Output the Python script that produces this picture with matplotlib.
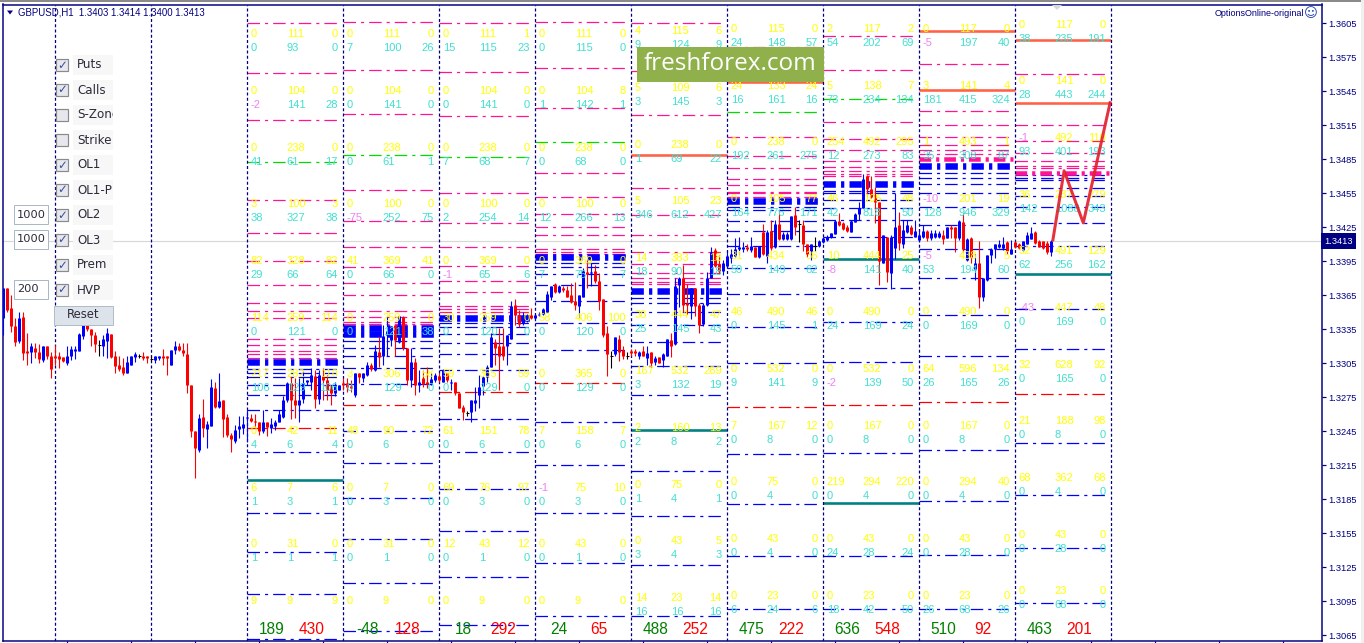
import numpy as np
import matplotlib
matplotlib.use('Agg')
import matplotlib.pyplot as plt
from matplotlib.patches import Rectangle, Polygon

# GBPUSD H1 candles, in pips (1.3413 -> 13413)
opens = [13345,13372,13354,13338,13325,13346,13316,13315,13319,13315,13308,13320,13312,13312,13312,13311,13305,13312,13316,13316,13329,13340,13335,13330,13321,13320,13325,13331,13312,13304,13302,13297,13304,13311,13312,13312,13312,13309,13308,13310,13312,13312,13304,13317,13320,13317,13313,13286,13245,13229,13258,13247,13250,13283,13267,13273,13258,13242,13237,13247,13248,13257,13257,13254,13253,13245,13253,13248,13250,13253,13258,13273,13288,13273,13268,13274,13289,13289,13294,13274,13294,13290,13284,13279,13282,13288,13288,13285,13277,13297,13292,13295,13304,13299,13315,13312,13330,13326,13339,13324,13346,13319,13290,13306,13286,13292,13289,13288,13290,13294,13289,13297,13288,13289,13279,13267,13261,13262,13270,13277,13285,13293,13302,13324,13320,13320,13320,13327,13357,13348,13341,13343,13348,13345,13348,13349,13350,13364,13375,13368,13372,13370,13365,13360,13356,13364,13386,13385,13387,13378,13362,13332,13312,13313,13327,13317,13312,13316,13316,13312,13316,13310,13315,13306,13311,13308,13312,13326,13322,13374,13380,13358,13356,13372,13357,13340,13357,13380,13405,13393,13387,13391,13398,13400,13406,13406,13408,13405,13408,13399,13421,13400,13422,13408,13428,13415,13415,13415,13436,13428,13427,13410,13404,13409,13409,13412,13414,13417,13419,13431,13429,13425,13421,13430,13437,13442,13470,13459,13454,13447,13394,13417,13385,13407,13427,13410,13421,13425,13417,13414,13417,13422,13416,13417,13417,13418,13416,13425,13425,13416,13430,13396,13416,13388,13394,13364,13379,13401,13406,13408,13407,13412,13402,13412,13410,13405,13410,13415,13421,13413,13413,13411,13403]
highs = [13372,13372,13365,13345,13350,13350,13332,13323,13323,13322,13320,13320,13315,13321,13315,13311,13320,13320,13320,13332,13340,13342,13335,13333,13326,13330,13336,13331,13316,13312,13310,13312,13312,13315,13313,13315,13312,13312,13312,13312,13318,13312,13317,13325,13323,13323,13323,13286,13245,13260,13274,13254,13291,13289,13297,13273,13260,13244,13251,13259,13259,13264,13260,13260,13253,13264,13253,13257,13255,13264,13276,13289,13294,13292,13292,13299,13290,13301,13299,13299,13301,13295,13286,13289,13286,13292,13292,13290,13297,13297,13297,13306,13305,13321,13328,13339,13347,13338,13339,13347,13347,13319,13319,13310,13299,13299,13302,13297,13297,13297,13300,13297,13291,13289,13279,13268,13263,13273,13284,13295,13294,13304,13332,13327,13336,13336,13330,13360,13362,13352,13350,13349,13354,13348,13350,13354,13369,13373,13376,13374,13373,13373,13376,13377,13365,13389,13396,13394,13392,13385,13362,13338,13316,13328,13330,13320,13315,13318,13318,13316,13320,13320,13315,13312,13311,13314,13327,13332,13380,13381,13392,13375,13372,13372,13358,13358,13386,13408,13407,13401,13396,13403,13406,13416,13417,13412,13410,13417,13408,13409,13428,13423,13432,13432,13440,13421,13421,13435,13443,13432,13432,13410,13410,13417,13414,13417,13418,13420,13432,13438,13430,13427,13432,13438,13447,13472,13471,13470,13461,13447,13418,13417,13418,13455,13439,13432,13432,13427,13432,13423,13427,13423,13423,13423,13422,13423,13425,13427,13425,13432,13438,13416,13417,13402,13413,13380,13401,13407,13410,13414,13417,13413,13414,13413,13411,13413,13421,13425,13422,13414,13413,13413,13414]
lows = [13330,13350,13333,13320,13323,13308,13304,13305,13310,13305,13306,13309,13292,13304,13301,13306,13304,13308,13309,13316,13327,13334,13320,13315,13312,13312,13310,13310,13297,13298,13295,13297,13304,13306,13310,13308,13305,13307,13305,13308,13304,13295,13304,13313,13316,13312,13279,13240,13204,13227,13240,13230,13250,13266,13266,13240,13240,13227,13235,13239,13243,13236,13253,13249,13242,13244,13241,13244,13246,13253,13257,13271,13256,13257,13253,13270,13286,13282,13266,13269,13273,13273,13268,13276,13282,13282,13280,13280,13275,13288,13289,13294,13298,13298,13302,13304,13312,13320,13312,13323,13317,13286,13284,13277,13280,13284,13283,13286,13289,13289,13289,13289,13282,13277,13266,13255,13259,13253,13263,13266,13277,13289,13302,13304,13282,13308,13304,13327,13339,13337,13339,13342,13344,13344,13347,13348,13350,13361,13367,13367,13368,13364,13358,13352,13345,13364,13372,13373,13376,13352,13328,13294,13301,13312,13307,13309,13309,13312,13312,13309,13312,13304,13302,13304,13305,13302,13312,13311,13321,13355,13350,13349,13344,13347,13332,13338,13356,13380,13390,13384,13383,13390,13394,13399,13401,13403,13404,13403,13399,13398,13401,13394,13405,13407,13414,13414,13414,13414,13418,13412,13404,13399,13396,13404,13408,13411,13413,13416,13419,13426,13423,13421,13421,13430,13432,13442,13452,13451,13429,13374,13394,13377,13371,13397,13405,13407,13420,13418,13417,13413,13416,13413,13414,13416,13416,13410,13416,13416,13403,13414,13403,13395,13394,13379,13354,13360,13378,13394,13398,13407,13405,13402,13402,13407,13406,13404,13410,13415,13410,13408,13406,13402,13400]
closes = [13372,13352,13338,13324,13345,13314,13314,13320,13315,13309,13320,13312,13300,13310,13309,13307,13312,13318,13318,13331,13339,13335,13330,13322,13321,13327,13332,13311,13303,13300,13297,13306,13312,13313,13312,13310,13310,13309,13312,13312,13310,13310,13317,13320,13317,13314,13286,13245,13230,13257,13248,13252,13284,13267,13272,13256,13242,13238,13246,13250,13252,13258,13254,13253,13245,13253,13249,13252,13253,13260,13273,13288,13273,13268,13273,13288,13290,13295,13274,13295,13290,13282,13279,13285,13286,13286,13284,13283,13297,13293,13297,13304,13300,13316,13311,13329,13334,13338,13326,13347,13319,13290,13306,13286,13289,13287,13287,13291,13295,13290,13299,13290,13289,13279,13266,13262,13261,13273,13273,13284,13293,13302,13328,13319,13312,13312,13330,13356,13348,13340,13346,13347,13345,13348,13349,13353,13366,13373,13368,13373,13370,13364,13359,13357,13365,13387,13384,13386,13378,13360,13330,13313,13312,13328,13315,13312,13312,13314,13314,13315,13312,13314,13305,13310,13305,13313,13327,13320,13373,13380,13357,13357,13372,13356,13339,13357,13380,13403,13391,13387,13394,13400,13402,13406,13408,13408,13406,13409,13399,13409,13402,13421,13407,13428,13415,13419,13419,13435,13425,13428,13410,13402,13410,13409,13413,13416,13417,13420,13431,13427,13424,13422,13431,13437,13442,13468,13459,13452,13447,13395,13418,13386,13417,13425,13411,13423,13427,13419,13422,13418,13422,13416,13420,13420,13420,13415,13425,13424,13416,13431,13406,13415,13399,13394,13364,13380,13401,13406,13410,13410,13410,13404,13406,13408,13407,13413,13418,13420,13411,13408,13407,13403,13413]

# daily separators and option columns, in bar numbers
day_lines = [13, 37, 61, 85, 109, 133, 157, 181, 205, 229, 253, 277]
columns = [61, 85, 109, 133, 157, 181, 205, 229, 253]
basis = [-4.5, -4.5, -4.5, -4.5, -2, 0, 0, 0, 4]
strikes = [13600, 13550, 13500, 13450, 13400, 13350, 13300, 13250, 13200, 13150, 13100]

yellow_rows = [
    ['0 111 0','0 104 0','0 238 0','3 100 3','82 328 82','114 259 114','217 282 118','0 42 11','6 7 6','0 31 0','9 9 9'],
    ['0 111 0','0 104 0','0 238 0','0 100 0','41 369 41','0 259 0','3 306 58','48 90 72','0 7 0','0 31 0','0 9 0'],
    ['0 111 1','0 104 0','0 238 0','0 100 0','0 369 0','30 259 0','59 365 59','61 151 78','69 76 97','12 43 12','0 9 0'],
    ['0 111 0','0 104 8','0 238 0','0 100 0','0 369 0','58 406 100','0 365 0','7 158 7','-1 75 10','0 43 0','0 9 0'],
    ['4 115 6','5 109 6','0 238 0','5 105 23','14 383 18','38 444 47','167 532 289','2 160 13','0 75 0','0 43 5','14 23 14'],
    ['0 115 0','24 133 24','0 238 0','0 105 77','31 434 36','46 490 46','0 532 0','7 167 12','0 75 0','0 43 0','0 23 0'],
    ['2 117 2','5 138 7','254 492 295','46 105 48','10 444 25','0 490 0','0 532 0','0 167 0','219 294 220','0 43 0','0 23 0'],
    ['0 117 0','3 141 4','1 493 1','-10 201 19','-5 438 5','0 490 0','64 596 134','0 167 0','0 294 40','0 43 0','0 23 0'],
    ['0 117 0','0 141 0','-1 492 110','36 287 279','52 491 129','-43 447 48','32 628 92','21 188 98','68 362 68','0 43 0','0 23 0'],
]
cyan_rows = [
    ['0 93 0','-2 141 28','41 61 17','38 327 38','29 66 64','0 121 0','106 129 106','4 6 4','1 3 1','1 1 1',''],
    ['7 100 26','0 141 0','0 61 1','-75 252 75','0 66 0','0 121 38','0 129 0','0 6 0','0 3 0','0 1 0',''],
    ['15 115 23','0 141 0','7 68 7','2 254 14','-1 65 6','0 120 0','0 129 0','0 6 0','0 3 0','0 1 0',''],
    ['0 115 0','1 142 1','0 68 0','12 266 13','7 75 7','0 120 0','0 129 0','0 6 0','0 3 0','0 1 0',''],
    ['9 124 9','3 145 3','1 69 22','346 612 427','18 90 18','25 145 43','3 132 19','2 8 2','1 4 1','3 4 3','16 16 16'],
    ['24 148 57','16 161 16','192 261 275','164 776 171','59 149 62','0 145 1','9 141 9','0 8 0','0 4 0','0 4 0','6 24 6'],
    ['54 202 69','73 234 134','12 273 83','42 818 50','-8 141 40','24 169 24','-2 139 50','0 8 0','0 4 0','24 28 24','18 42 50'],
    ['-5 197 40','181 415 324','35 308 87','128 946 329','53 194 60','0 169 0','26 165 26','0 8 0','0 4 0','0 28 0','26 68 26'],
    ['38 235 191','28 443 244','93 401 193','142 1088 343','62 256 162','0 169 0','0 165 0','0 8 0','0 4 0','0 28 0','0 68 0'],
]

puts_total = [189, -48, 18, 24, 488, 475, 636, 510, 463]
calls_total = [430, 128, 292, 65, 252, 222, 548, 92, 201]

# option levels per column, in pips
mag_levels = [
    [13605,13561,13520,13449,13420,13395,13374,13358,13351,13345,13327,13321,13316,13313,13310],
    [13606,13564,13525,13458,13431,13408,13390,13376,13365,13351,13346,13342,13340],
    [13605,13562,13523,13455,13429,13408,13391,13378,13368,13356,13353,13350],
    [13606,13566,13530,13473,13452,13437,13425,13418,13406,13403,13402],
    [13605,13563,13524,13460,13436,13418,13403,13393,13385,13380,13377,13375],
    [13584,13505,13488,13477,13468,13462,13456,13455,13452],
    [13594,13564,13518,13503,13493,13484,13478,13475,13472,13470],
    [13569,13528,13515,13505,13498,13493,13490],
    [13560,13515,13501,13491,13484,13479,13477],
]
blue_levels = [
    [13300,13297,13293,13286,13277,13264,13227,13173,13139,13102,13062],
    [13325,13319,13312,13301,13287,13245,13217,13186,13150,13111,13069],
    [13341,13337,13331,13323,13313,13299,13256,13227,13194,13157,13117,13074],
    [13394,13390,13384,13374,13360,13341,13317,13253,13215,13173,13129,13082],
    [13363,13358,13350,13339,13324,13303,13277,13210,13170,13127,13082],
    [13443,13440,13431,13422,13409,13389,13366,13337,13305,13225,13181,13135,13088],
    [13457,13455,13449,13442,13432,13417,13372,13342,13306,13226,13135,13088],
    [13473,13469,13463,13455,13443,13427,13406,13380,13348,13312,13229,13184,13136,13088],
    [13471,13469,13467,13460,13453,13443,13429,13409,13353,13318,13235,13189,13142,13094],
]
green_levels = [[13483],[13489],[13487],[13500],[],[13527],[13538],[],[]]
red_levels = [[13248],[13268],[13280],[13288],[],[13267],[13268],[13271],[13278]]
orange_levels = [[],[],[],[],[13489],[13553],[],[13598,13546],[13590,13535]]
teal_levels = [[13202],[],[],[],[13246],[],[13397,13182],[],[13384]]
blue_bands = [[13306],[13336,13331],[13345],[13399],[13369],[13448],[13463],[13479],[]]
mag_bands = [[],[],[],[],[],[],[],[13485],[13473]]

forecast_bar = [262.4, 265.2, 270, 276.7]
forecast_price = [13414, 13475, 13429, 13535]
last_price = 13413

BLUE = '#0000ff'
RED = '#ff0000'
NAVY = '#000080'
YELLOW = '#ffff00'
CYAN = '#40e0d0'
PINK = '#ee82ee'
DASH = (0, (10, 4, 2.5, 4))
FONT = 'Liberation Sans'
PX = 0.72  # one pixel in points at dpi 100

fig = plt.figure(figsize=(13.64, 6.43), dpi=100, facecolor='white')
ax = fig.add_axes([2.5 / 1364, 2 / 643, (1322 - 2.5) / 1364, (641 - 4.5) / 643])
ax.set_xlim(-0.2, 329.675)
ax.set_ylim(1.30601, 1.36217)

# current price line
ax.axhline(last_price / 1e4, color='#d8d8d8', lw=1.2 * PX, zorder=0.5)

# horizontal levels
def draw_levels(levels, color, lw=1.25 * PX, length=23.3, ls=DASH, z=1):
    for col, prices in zip(columns, levels):
        for p in prices:
            ax.plot([col, col + length], [p / 1e4, p / 1e4], color=color, lw=lw, ls=ls,
                    zorder=z, dash_capstyle='butt', solid_capstyle='butt')

draw_levels(mag_levels, '#ff1493')
draw_levels(blue_levels, BLUE)
draw_levels(green_levels, '#00dd00')
draw_levels(red_levels, RED)
draw_levels(mag_bands, '#ff1493', lw=4.5 * PX, ls=(0, (2.6, 1.1, 0.7, 1.1)))
draw_levels(blue_bands, BLUE, lw=6.5 * PX, ls=(0, (1.9, 0.8, 0.5, 0.8)))
draw_levels(orange_levels, '#ff6347', lw=2.6 * PX, length=24, ls='-')
draw_levels(teal_levels, '#008080', lw=2.6 * PX, length=24, ls='-')

# day separators
for d in day_lines:
    ax.axvline(d, color=NAVY, lw=1.25 * PX, ls=(0, (2.4, 1.8)), zorder=2)

# candles
o = np.array(opens) / 1e4
h = np.array(highs) / 1e4
l = np.array(lows) / 1e4
c = np.array(closes) / 1e4
x = np.arange(len(o))
colors = [BLUE if b > a else (RED if b < a else 'black') for a, b in zip(o, c)]
ax.vlines(x, l, h, colors=colors, lw=1.1 * PX, zorder=3)
ax.vlines(x, np.minimum(o, c), np.maximum(o, c), colors=colors, lw=3 * PX, zorder=3)
flat = o == c
ax.hlines(c[flat], x[flat] - 0.4, x[flat] + 0.4, colors='black', lw=PX, zorder=3)

# option numbers
def put_number(col, price, value, dx, dy, color, ha):
    if value.startswith('-'):
        color = PINK
    ax.annotate(value, (col, price), xytext=(dx, dy), textcoords='offset pixels', color=color,
                ha=ha, va='center', fontsize=8, family=FONT, zorder=4, annotation_clip=False)

for k, col in enumerate(columns):
    for s, yrow, crow in zip(strikes, yellow_rows[k], cyan_rows[k]):
        price = (s + basis[k]) / 1e4
        for row, dy, color in [(yrow, 0, YELLOW), (crow, -14, CYAN)]:
            if row == '':
                continue
            a, b, e = row.split()
            put_number(col, price, a, 3.5, dy, color, 'left')
            put_number(col, price, b, 39.5, dy, color, 'left')
            put_number(col, price, e, 90.5, dy, color, 'right')
    base = ax.get_xaxis_transform()
    ax.annotate(str(puts_total[k]), (col, 0), xycoords=base, xytext=(24, 11), textcoords='offset pixels',
                color='#008000', fontsize=11.2, family=FONT, ha='center', va='center', zorder=4)
    ax.annotate(str(calls_total[k]), (col, 0), xycoords=base, xytext=(64, 11), textcoords='offset pixels',
                color=RED, fontsize=11.2, family=FONT, ha='center', va='center', zorder=4)

# forecast zigzag
ax.plot(forecast_bar, np.array(forecast_price) / 1e4, color='#e3202c', lw=3 * PX, zorder=5, alpha=0.92)

# axes
for s in ax.spines.values():
    s.set_color(NAVY)
    s.set_linewidth(1.5 * PX)
ax.yaxis.tick_right()
ax.set_yticks(np.arange(13065, 13606, 30) / 1e4)
ax.yaxis.set_major_formatter(lambda v, pos: f'{v:.4f}')
ax.tick_params(axis='y', length=4 * PX, width=1.2 * PX, color=NAVY, labelcolor=NAVY, labelsize=6.7, pad=1.5)
ax.set_xticks(np.arange(16, 330, 16))
ax.tick_params(axis='x', length=2 * PX, width=1.2 * PX, color=NAVY, labelbottom=False)
for t in ax.get_yticklabels():
    t.set_family(FONT)
ax.text(1.0018, last_price / 1e4, f'{last_price / 1e4:.4f}', transform=ax.get_yaxis_transform(), color='white',
        fontsize=6.7, family=FONT, va='center', ha='left', zorder=8, clip_on=False,
        bbox=dict(boxstyle='square,pad=0.35', fc=NAVY, ec='none'))

# overlay in pixels for the terminal widgets
ui = fig.add_axes([0, 0, 1, 1], zorder=10)
ui.set_xlim(0, 1364)
ui.set_ylim(643, 0)
ui.axis('off')
ui.add_patch(Rectangle((0, 0), 1364, 2, fc='#8a8a8a', ec='none'))
ui.add_patch(Rectangle((1361, 0), 3, 643, fc='#f0f0f0', ec='none'))
ui.add_patch(Polygon([[7, 10.5], [13, 10.5], [10, 14.5]], fc=NAVY, ec='none'))
ui.add_patch(Polygon([[1052, 5], [1062, 5], [1057, 10]], fc='#d8d8d8', ec='none'))
ui.text(18, 12.5, 'GBPUSD,H1  1.3403 1.3414 1.3400 1.3413', color=NAVY, fontsize=6.9, family=FONT, va='center')
ui.text(1304, 14, 'OptionsOnline-original', color=NAVY, fontsize=6.5, family=FONT, va='center', ha='right')
ui.text(1311, 14, '\u263a', color='#1a3fb0', fontsize=9.5, family='DejaVu Sans', va='center', ha='center')

# check boxes
labels = ['Puts', 'Calls', 'S-Zone', 'Strike', 'OL1', 'OL1-P', 'OL2', 'OL3', 'Prem', 'HVP']
checked = [1, 1, 0, 0, 1, 1, 1, 1, 1, 1]
for n, (name, on) in enumerate(zip(labels, checked)):
    yc = 65 + 25 * n
    bg = Rectangle((73, yc - 10), 40, 20, fc='#f7f7f7', ec='none')
    ui.add_patch(bg)
    ui.add_patch(Rectangle((56, yc - 6), 12, 12, fc='#e6e8ee', ec='#8a8a8a', lw=1.2 * PX))
    if on:
        ui.text(62, yc, '\u2713', color='#3a4f9a', fontsize=8.5, family='DejaVu Sans', ha='center', va='center')
    t = ui.text(77, yc, name, color='#2b2b3a', fontsize=8.6, family='DejaVu Sans', va='center')
    t.set_clip_path(bg)
    t.set_clip_on(True)

# edit boxes and button
for y0, value in [(205, '1000'), (230, '1000'), (280, '200')]:
    ui.add_patch(Rectangle((13.5, y0), 34, 19, fc='white', ec='#a9b8c8', lw=PX))
    ui.text(17, y0 + 9.5, value, color='#2b2b3a', fontsize=8.2, family='DejaVu Sans', va='center')
ui.add_patch(Rectangle((53.5, 305.5), 59, 19, fc='#dde3ea', ec='#b0bcc8', lw=PX))
ui.text(83, 315, 'Reset', color='#2b2b3a', fontsize=8.4, family='DejaVu Sans', va='center', ha='center')

# watermark
ui.add_patch(Rectangle((637, 47), 187, 35, fc='#8fb04a', ec='none'))
ui.text(730.5, 64, 'freshforex.com', color='white', fontsize=17.5, family='Open Sans', va='center', ha='center')

fig.savefig('out.png', dpi=100)
